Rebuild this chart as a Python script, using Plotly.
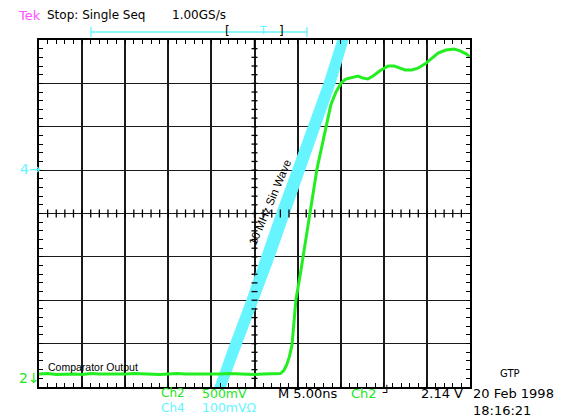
import plotly.graph_objects as go

# ---------------- data (screen divisions: x 0..10, y 0..8) ----------------
# Ch2 comparator output
ch2_t = [0.0, 0.2, 0.4, 0.6, 0.8, 1.0, 1.2, 1.4, 1.6, 1.8, 2.0, 2.2, 2.4, 2.6, 2.8,
         3.0, 3.2, 3.4, 3.6, 3.8, 4.0, 4.2, 4.4, 4.6, 4.8, 5.0, 5.2, 5.4, 5.6,
         5.68, 5.75, 5.81, 5.87, 5.92, 5.96, 6.06, 6.13, 6.22, 6.29, 6.38, 6.45,
         6.57, 6.66, 6.77, 6.89, 7.01, 7.12, 7.29, 7.40, 7.52, 7.63, 7.75, 7.91,
         8.10, 8.24, 8.38, 8.49, 8.65, 8.79, 8.96, 9.12, 9.26, 9.44, 9.63, 9.77,
         9.91, 10.0]
ch2_v = [0.30, 0.31, 0.29, 0.30, 0.30, 0.29, 0.31, 0.30, 0.30, 0.29, 0.30, 0.31,
         0.30, 0.30, 0.29, 0.30, 0.31, 0.30, 0.30, 0.30, 0.29, 0.30, 0.31, 0.30,
         0.30, 0.29, 0.30, 0.30, 0.31,
         0.38, 0.52, 0.70, 0.97, 1.54, 2.01, 2.58, 3.00, 3.62, 4.01, 4.54, 5.03,
         5.58, 5.99, 6.50, 6.80, 7.01, 7.10, 7.15, 7.17, 7.12, 7.10, 7.17, 7.29,
         7.40, 7.40, 7.35, 7.31, 7.31, 7.35, 7.45, 7.59, 7.70, 7.77, 7.79, 7.75,
         7.68, 7.61]

# Ch4 10 MHz sine wave (band: centre and half-spread of the noisy trace)
ch4_v = [-0.2, 0.0, 1.0, 2.0, 3.0, 4.0, 5.0, 6.0, 7.0, 8.0, 8.2]
ch4_center = [4.13, 4.20, 4.57, 4.95, 5.31, 5.66, 6.02, 6.38, 6.74, 7.05, 7.11]
ch4_spread = [0.12, 0.12, 0.13, 0.13, 0.15, 0.15, 0.14, 0.14, 0.13, 0.12, 0.12]

# ---------------- styling ----------------
W, H = 562, 420
L, R, T, B = 39, 470, 40, 387
GREEN = "#22EE22"
GREEN_TXT = "#22E622"
CYAN = "#66F5FF"
MAGENTA = "#FF4FFF"
FONT = "DejaVu Sans"


def px(x):
    return (x - L) / (R - L)


def py(y):
    return (B - y) / (B - T)


fig = go.Figure()

band_x = [c - s for c, s in zip(ch4_center, ch4_spread)] + \
         [c + s for c, s in zip(ch4_center[::-1], ch4_spread[::-1])]
band_y = ch4_v + ch4_v[::-1]
fig.add_trace(go.Scatter(x=band_x, y=band_y, mode="lines", fill="toself",
                         fillcolor=CYAN, line=dict(color=CYAN, width=1),
                         hoverinfo="skip", showlegend=False))
fig.add_trace(go.Scatter(x=ch2_t, y=ch2_v, mode="lines",
                         line=dict(color=GREEN, width=3),
                         hoverinfo="skip", showlegend=False))

axis_common = dict(showgrid=True, gridcolor="#1a1a1a", zeroline=False,
                   showline=True, linecolor="black", linewidth=2,
                   mirror="allticks", ticks="inside", ticklen=4,
                   tickcolor="black", showticklabels=False, fixedrange=True,
                   minor=dict(dtick=0.2, ticks="inside", ticklen=4,
                              tickcolor="black", tickwidth=1.3, showgrid=False))
fig.update_xaxes(range=[0, 10], dtick=1, tick0=0, gridwidth=2, **axis_common)
fig.update_yaxes(range=[0, 8], dtick=1, tick0=0, gridwidth=1.3, **axis_common)

shapes = []
# crosshair ticks on the centre lines
for i in range(1, 50):
    shapes.append(dict(type="line", xref="x", yref="y", x0=i * 0.2, x1=i * 0.2,
                       ysizemode="pixel", yanchor=4, y0=-4, y1=4,
                       line=dict(color="black", width=1.3), layer="above"))
for i in range(1, 40):
    shapes.append(dict(type="line", xref="x", yref="y", y0=i * 0.2, y1=i * 0.2,
                       xsizemode="pixel", xanchor=5, x0=-3, x1=3,
                       line=dict(color="black", width=1.3), layer="above"))
# trigger position bar
shapes.append(dict(type="line", xref="paper", yref="paper", x0=px(91), x1=px(307),
                   y0=py(32), y1=py(32), line=dict(color=CYAN, width=1.3)))
for xx in (91, 307):
    shapes.append(dict(type="line", xref="paper", yref="paper", x0=px(xx), x1=px(xx),
                       y0=py(27), y1=py(37), line=dict(color=CYAN, width=1.3)))
# trigger marker on top border
shapes.append(dict(type="line", xref="paper", yref="paper", x0=px(254.5), x1=px(254.5),
                   y0=py(40), y1=py(48), line=dict(color="black", width=1.5)))
fig.update_layout(shapes=shapes)

ann = []


def text(t, x, y, color="black", size=12, family=FONT, anchor="left", angle=0):
    ann.append(dict(text=t, x=px(x), y=py(y), xref="paper", yref="paper",
                    xanchor=anchor, yanchor="middle", showarrow=False,
                    textangle=angle, font=dict(color=color, size=size, family=family),
                    borderpad=0))


text("Tek", 17, 15, MAGENTA, 13)
text("Stop: Single Seq", 46, 15, "black", 12)
text("1.00GS/s", 171, 15, "black", 12)
text("[", 224, 31, "black", 12)
text("T", 258, 31, CYAN, 11)
text("]", 278, 31, "black", 12)
text("4→", 19, 169, CYAN, 14)
text("2↓", 18, 378, GREEN_TXT, 14)
text("Comparator Output", 47, 367, "black", 10.5, "Liberation Sans")
text("10 MHz Sin Wave", 270, 202, "black", 11.5, "Liberation Sans", "center", -67)
text("Ch2", 160, 393, GREEN_TXT, 12)
text("500mV", 201, 393, GREEN_TXT, 12.5)
text("Ch4", 160, 407.5, CYAN, 12)
text("100mVΩ", 201, 407.5, CYAN, 12.5)
text("M 5.00ns", 277, 393, "black", 13)
text("Ch2", 350, 393, GREEN_TXT, 13)
text("┘", 381, 392, "black", 13)
text("2.14 V", 420, 393, "black", 13)
text("GTP", 499, 373, "black", 10)
text("20 Feb 1998", 472, 393, "black", 13)
text("18:16:21", 472, 410, "black", 13)

fig.update_layout(annotations=ann, width=W, height=H, autosize=False,
                  margin=dict(l=L, r=W - R, t=T, b=H - B),
                  paper_bgcolor="white", plot_bgcolor="white",
                  showlegend=False)

fig.write_html("out.html", config={"displayModeBar": False},
               post_script="document.body.style.margin='0';"
                           "document.body.style.overflow='hidden';")
